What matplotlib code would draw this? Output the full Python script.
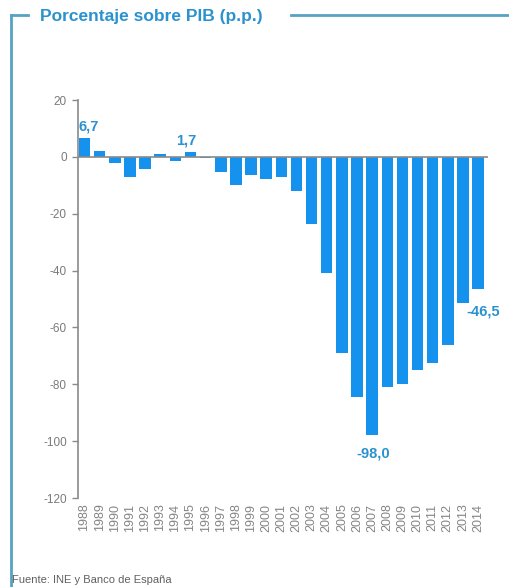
import numpy as np
import matplotlib.pyplot as plt
from matplotlib.lines import Line2D

plt.rcParams['font.family'] = ['Liberation Sans', 'DejaVu Sans']
plt.rcParams['axes.unicode_minus'] = False

# Datos: porcentaje sobre PIB (p.p.)
years = [str(y) for y in range(1988, 2015)]
values = [6.7, 2.0, -2.3, -7.2, -4.3, 1.0, -1.5, 1.7, -0.3, -5.2, -9.9, -6.4,
          -7.7, -7.0, -11.9, -23.5, -40.8, -68.9, -84.4, -98.0, -80.9, -80.0,
          -75.0, -72.4, -66.2, -51.3, -46.5]
# etiqueta y desplazamiento (puntos) de los valores destacados
labels = {0: ('6,7', (3, 3)), 7: ('1,7', (-3, 3)),
          19: ('-98,0', (1, -8)), 26: ('-46,5', (4, -11))}

bar_color = '#1591ee'
label_color = '#2b92cf'
frame_color = '#55a3c2'
grey = '#7a7a7a'

fig = plt.figure(figsize=(5.1, 5.87), dpi=100)
ax = fig.add_axes([0.153, 0.1516, 0.804, 0.678])

x = np.arange(len(years))
ax.bar(x, values, width=0.76, color=bar_color, zorder=2)
ax.axhline(0, color='#8a8a8a', lw=1.2, zorder=3)

for i, (txt, off) in labels.items():
    v = values[i]
    ax.annotate(txt, (x[i], v), xytext=off, textcoords='offset points',
                ha='center', va='bottom' if v >= 0 else 'top',
                color=label_color, fontsize=10.5, fontweight='bold')

ax.set_ylim(-120, 20)
ax.set_xlim(-0.43, 26.66)
ax.set_yticks(np.arange(-120, 21, 20))
ax.set_xticks(x)
ax.set_xticklabels(years, rotation=90, fontsize=9, color='#858585')
ax.tick_params(axis='x', length=0, pad=4)
ax.tick_params(axis='y', labelsize=8.5, colors=grey, length=4, width=1,
               color='#8a8a8a', pad=4)
for s in ['top', 'right', 'bottom']:
    ax.spines[s].set_visible(False)
ax.spines['left'].set_color('#8a8a8a')
ax.spines['left'].set_linewidth(1.2)

# marco y titulo
fig.add_artist(Line2D([0.022, 0.022], [0.0, 0.975], color=frame_color, lw=2, transform=fig.transFigure))
fig.add_artist(Line2D([0.021, 0.055], [0.975, 0.975], color=frame_color, lw=2, transform=fig.transFigure))
fig.add_artist(Line2D([0.57, 1.0], [0.975, 0.975], color=frame_color, lw=2, transform=fig.transFigure))
fig.text(0.078, 0.972, 'Porcentaje sobre PIB (p.p.)', color='#2b92cf',
         fontsize=12.5, fontweight='bold', va='center', ha='left')

fig.text(0.024, 0.004, 'Fuente: INE y Banco de España', color='#606060',
         fontsize=8, va='bottom', ha='left')

fig.savefig('out.png', dpi=100, facecolor='white')
